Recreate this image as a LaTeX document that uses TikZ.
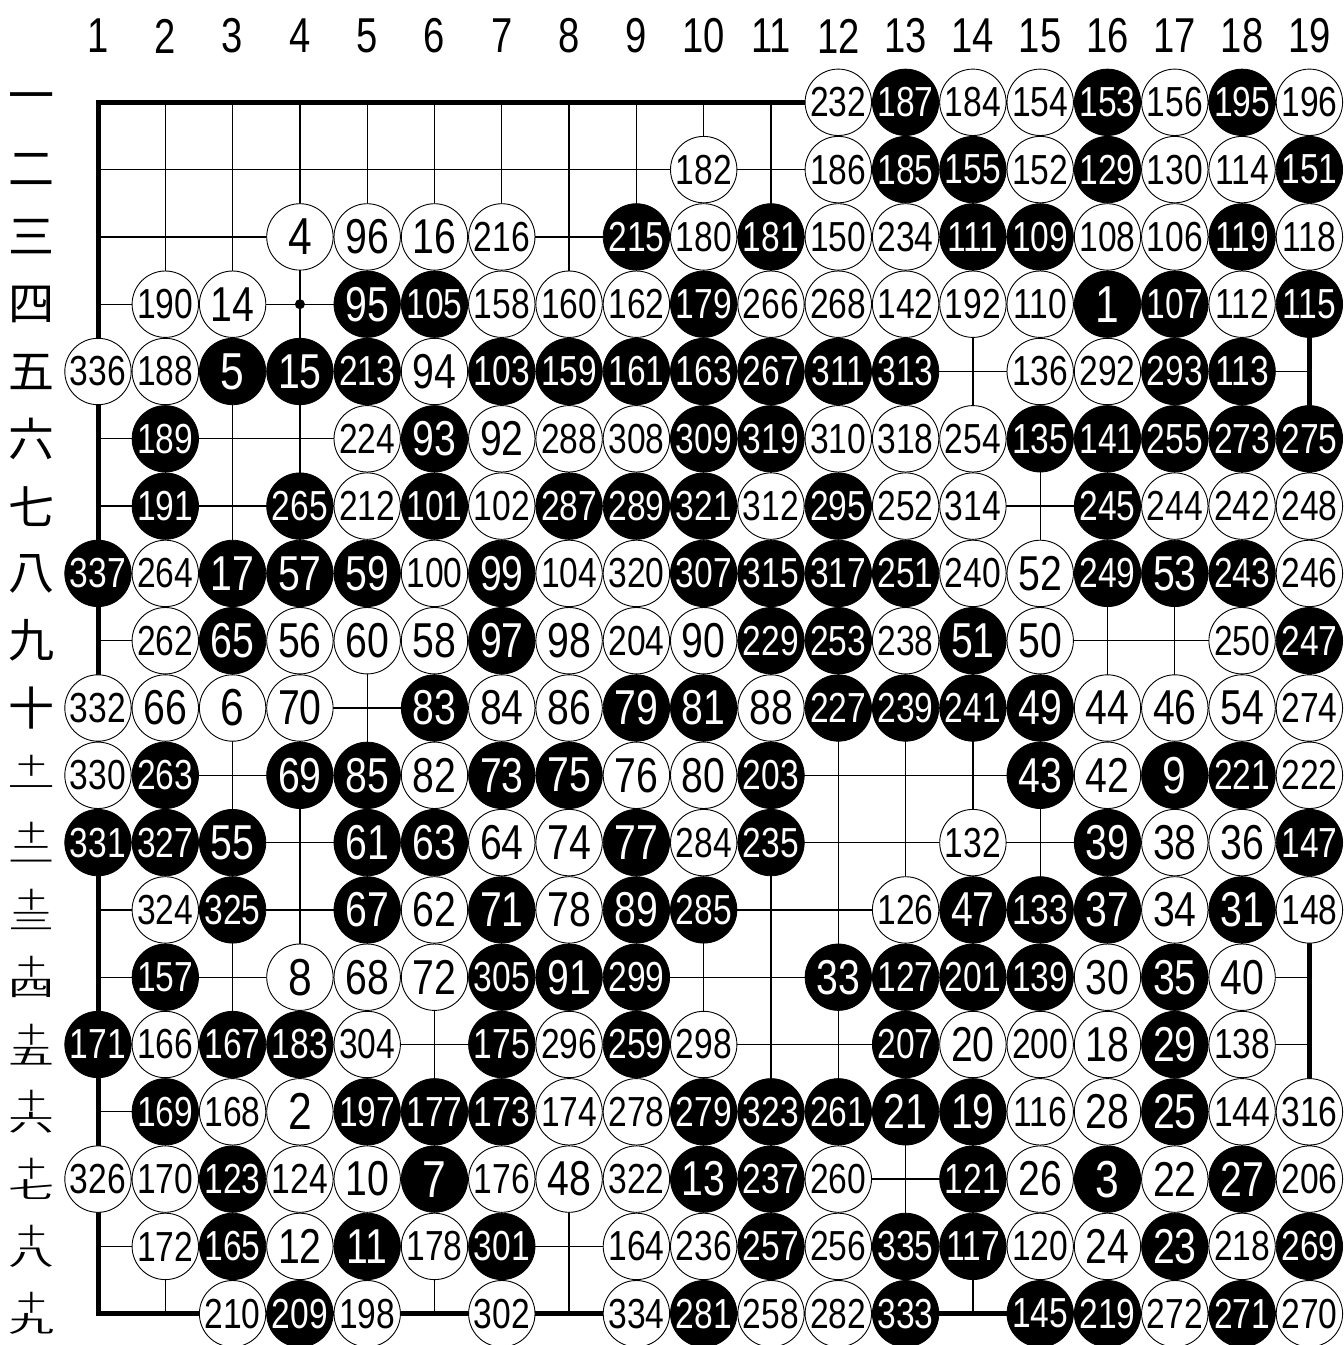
\documentclass[tikz,border=0pt]{standalone}
\usepackage{graphicx}
\usepackage{fontspec}
\setmainfont{Liberation Sans}
\newfontfamily\cjk{Noto Sans CJK JP}
\newcommand\stnum[1]{\ifnum#1<10 \fontsize{52}{52}\selectfont\scalebox{0.82}[1]{#1}\else\ifnum#1<100 \fontsize{49}{49}\selectfont\scalebox{0.8}[1]{#1}\else\fontsize{42}{42}\selectfont\scalebox{0.8}[1]{#1}\fi\fi}
\tikzset{
  gridline/.style={line width=1.3pt, black},
  edgeline/.style={line width=5pt, black, line cap=rect},
  bstone/.style={circle, fill=black, draw=black, line width=0.8pt, minimum size=66.4pt, inner sep=0pt, text=white},
  wstone/.style={circle, fill=white, draw=black, line width=0.9pt, minimum size=66.4pt, inner sep=0pt, text=black},
  collabel/.style={inner sep=0pt, font=\fontsize{49}{49}\selectfont},
  rowlabel/.style={inner sep=0pt, font=\cjk\fontsize{46}{46}\selectfont},
  rowlabeltwo/.style={inner sep=0pt, align=center, font=\cjk\fontsize{46}{21}\selectfont},
}
\def\gx#1{98+(#1-1)*67.3}
\def\gy#1{102.3+(#1-1)*67.3}
\begin{document}
\begin{tikzpicture}[x=1pt,y=-1pt]
\useasboundingbox (0,0) rectangle (1344,1345);
% grid
\foreach \i in {2,...,18}{
  \draw[gridline] ({\gx{\i}},{\gy{1}}) -- ({\gx{\i}},{\gy{19}});
  \draw[gridline] ({\gx{1}},{\gy{\i}}) -- ({\gx{19}},{\gy{\i}});
}
\draw[edgeline] ({\gx{1}},{\gy{1}}) rectangle ({\gx{19}},{\gy{19}});
\fill ({\gx{4}},{\gy{4}}) circle (5);
% column labels
\foreach \i in {1,...,19}{
  \node[collabel] (col\i) at ({\gx{\i}},36) {\scalebox{0.78}[1]{\i}};
}
% row labels
\foreach \r/\ch in {1/一,2/二,3/三,4/四,5/五,6/六,7/七,8/八,9/九,10/十}{
  \node[rowlabel] (row\r) at (32,{\gy{\r}}) {\ch};
}
\foreach \r/\ch in {11/一,12/二,13/三,14/四,15/五,16/六,17/七,18/八,19/九}{
  \node[rowlabeltwo] (row\r) at (32,{\gy{\r}}) {\scalebox{0.62}[0.5]{十}\\\scalebox{1}[0.5]{\ch}};
}
% black stones
\foreach \c/\r/\n in {
13/1/187, 16/1/153, 18/1/195,
13/2/185, 14/2/155, 16/2/129, 19/2/151,
9/3/215, 11/3/181, 14/3/111, 15/3/109, 18/3/119,
5/4/95, 6/4/105, 10/4/179, 16/4/1, 17/4/107, 19/4/115,
3/5/5, 4/5/15, 5/5/213, 7/5/103, 8/5/159, 9/5/161, 10/5/163, 11/5/267, 12/5/311, 13/5/313, 17/5/293, 18/5/113,
2/6/189, 6/6/93, 10/6/309, 11/6/319, 15/6/135, 16/6/141, 17/6/255, 18/6/273, 19/6/275,
2/7/191, 4/7/265, 6/7/101, 8/7/287, 9/7/289, 10/7/321, 12/7/295, 16/7/245,
1/8/337, 3/8/17, 4/8/57, 5/8/59, 7/8/99, 10/8/307, 11/8/315, 12/8/317, 13/8/251, 16/8/249, 17/8/53, 18/8/243,
3/9/65, 7/9/97, 11/9/229, 12/9/253, 14/9/51, 19/9/247,
6/10/83, 9/10/79, 10/10/81, 12/10/227, 13/10/239, 14/10/241, 15/10/49,
2/11/263, 4/11/69, 5/11/85, 7/11/73, 8/11/75, 11/11/203, 15/11/43, 17/11/9, 18/11/221,
1/12/331, 2/12/327, 3/12/55, 5/12/61, 6/12/63, 9/12/77, 11/12/235, 16/12/39, 19/12/147,
3/13/325, 5/13/67, 7/13/71, 9/13/89, 10/13/285, 14/13/47, 15/13/133, 16/13/37, 18/13/31,
2/14/157, 7/14/305, 8/14/91, 9/14/299, 12/14/33, 13/14/127, 14/14/201, 15/14/139, 17/14/35,
1/15/171, 3/15/167, 4/15/183, 7/15/175, 9/15/259, 13/15/207, 17/15/29,
2/16/169, 5/16/197, 6/16/177, 7/16/173, 10/16/279, 11/16/323, 12/16/261, 13/16/21, 14/16/19, 17/16/25,
3/17/123, 6/17/7, 10/17/13, 11/17/237, 14/17/121, 16/17/3, 18/17/27,
3/18/165, 5/18/11, 7/18/301, 11/18/257, 13/18/335, 14/18/117, 17/18/23, 19/18/269,
4/19/209, 10/19/281, 13/19/333, 15/19/145, 16/19/219, 18/19/271}{
  \node[bstone] (s\c-\r) at ({\gx{\c}},{\gy{\r}}) {\stnum{\n}};
}
% white stones
\foreach \c/\r/\n in {
12/1/232, 14/1/184, 15/1/154, 17/1/156, 19/1/196,
10/2/182, 12/2/186, 15/2/152, 17/2/130, 18/2/114,
4/3/4, 5/3/96, 6/3/16, 7/3/216, 10/3/180, 12/3/150, 13/3/234, 16/3/108, 17/3/106, 19/3/118,
2/4/190, 3/4/14, 7/4/158, 8/4/160, 9/4/162, 11/4/266, 12/4/268, 13/4/142, 14/4/192, 15/4/110, 18/4/112,
1/5/336, 2/5/188, 6/5/94, 15/5/136, 16/5/292,
5/6/224, 7/6/92, 8/6/288, 9/6/308, 12/6/310, 13/6/318, 14/6/254,
5/7/212, 7/7/102, 11/7/312, 13/7/252, 14/7/314, 17/7/244, 18/7/242, 19/7/248,
2/8/264, 6/8/100, 8/8/104, 9/8/320, 14/8/240, 15/8/52, 19/8/246,
2/9/262, 4/9/56, 5/9/60, 6/9/58, 8/9/98, 9/9/204, 10/9/90, 13/9/238, 15/9/50, 18/9/250,
1/10/332, 2/10/66, 3/10/6, 4/10/70, 7/10/84, 8/10/86, 11/10/88, 16/10/44, 17/10/46, 18/10/54, 19/10/274,
1/11/330, 6/11/82, 9/11/76, 10/11/80, 16/11/42, 19/11/222,
7/12/64, 8/12/74, 10/12/284, 14/12/132, 17/12/38, 18/12/36,
2/13/324, 6/13/62, 8/13/78, 13/13/126, 17/13/34, 19/13/148,
4/14/8, 5/14/68, 6/14/72, 16/14/30, 18/14/40,
2/15/166, 5/15/304, 8/15/296, 10/15/298, 14/15/20, 15/15/200, 16/15/18, 18/15/138,
3/16/168, 4/16/2, 8/16/174, 9/16/278, 15/16/116, 16/16/28, 18/16/144, 19/16/316,
1/17/326, 2/17/170, 4/17/124, 5/17/10, 7/17/176, 8/17/48, 9/17/322, 12/17/260, 15/17/26, 17/17/22, 19/17/206,
2/18/172, 4/18/12, 6/18/178, 9/18/164, 10/18/236, 12/18/256, 15/18/120, 16/18/24, 18/18/218,
3/19/210, 5/19/198, 7/19/302, 9/19/334, 11/19/258, 12/19/282, 17/19/272, 19/19/270}{
  \node[wstone] (s\c-\r) at ({\gx{\c}},{\gy{\r}}) {\stnum{\n}};
}
\end{tikzpicture}
\end{document}
